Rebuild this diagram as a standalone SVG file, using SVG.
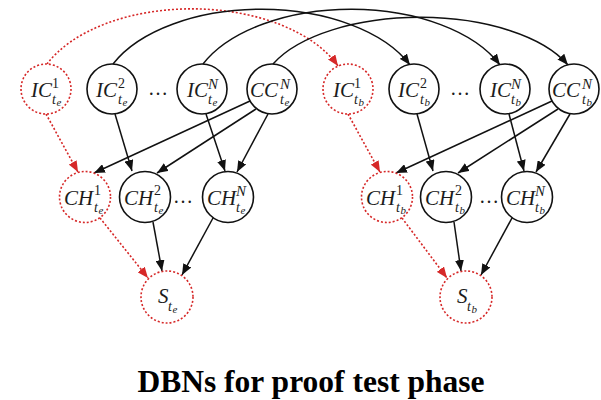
<svg xmlns="http://www.w3.org/2000/svg" width="601" height="400" viewBox="0 0 601 400">
<style>
.n circle{fill:#fff;stroke:#111;stroke-width:1.6}
.r circle{fill:#fff;stroke:#d62828;stroke-width:1.6;stroke-dasharray:2 2}
.e{fill:none;stroke:#111;stroke-width:1.5}
.er{fill:none;stroke:#d62828;stroke-width:1.6;stroke-dasharray:2 2}
text{font-family:"Liberation Serif","Times New Roman",serif;fill:#1c1c1c}
.m{font-size:21px;font-style:italic}
.d{font-size:14px}
.sn{font-size:15px;font-style:italic}
.t{font-size:14px;font-style:italic}
.s{font-size:11px;font-style:italic}
.dots{font-size:20px;text-anchor:middle}
.title{font-size:31.5px;font-weight:bold;text-anchor:middle;fill:#000}
</style>
<defs>
<marker id="ab" markerUnits="userSpaceOnUse" markerWidth="11" markerHeight="9" viewBox="0 0 11 9" refX="11" refY="4.5" orient="auto"><path d="M0,0 L11,4.5 L0,9 z" fill="#111"/></marker>
<marker id="ar" markerUnits="userSpaceOnUse" markerWidth="11" markerHeight="9" viewBox="0 0 11 9" refX="11" refY="4.5" orient="auto"><path d="M0,0 L11,4.5 L0,9 z" fill="#d62828"/></marker>
</defs>
<g id="connectors">
<path class="er" d="M47,64 A158,92 0 0 1 338,66" marker-end="url(#ar)"/>
<path class="e" d="M113,64 A162,92 0 0 1 410,65" marker-end="url(#ab)"/>
<path class="e" d="M203,64 A162,92 0 0 1 500,65" marker-end="url(#ab)"/>
<path class="e" d="M273,64 A160,77 0 0 1 568,65" marker-end="url(#ab)"/>
<path class="e" d="M115,114 L132,171" marker-end="url(#ab)"/>
<path class="e" d="M206,114 L225,171" marker-end="url(#ab)"/>
<path class="e" d="M250,101 L94,173" marker-end="url(#ab)"/>
<path class="e" d="M256,109 L157,173" marker-end="url(#ab)"/>
<path class="e" d="M268,114 L237,172" marker-end="url(#ab)"/>
<path class="er" d="M46,114 L78,172" marker-end="url(#ar)"/>
<path class="er" d="M100,218 L148,278" marker-end="url(#ar)"/>
<path class="e" d="M153,222 L162,271" marker-end="url(#ab)"/>
<path class="e" d="M213,218 L182,275" marker-end="url(#ab)"/>
<path class="e" d="M417,114 L433,171" marker-end="url(#ab)"/>
<path class="e" d="M509,114 L524,171" marker-end="url(#ab)"/>
<path class="e" d="M552,101 L396,173" marker-end="url(#ab)"/>
<path class="e" d="M558,109 L458,173" marker-end="url(#ab)"/>
<path class="e" d="M570,114 L536,172" marker-end="url(#ab)"/>
<path class="er" d="M348,114 L380,172" marker-end="url(#ar)"/>
<path class="er" d="M402,218 L447,278" marker-end="url(#ar)"/>
<path class="e" d="M454,222 L461,271" marker-end="url(#ab)"/>
<path class="e" d="M512,218 L481,275" marker-end="url(#ab)"/>
</g>
<g id="IC1_te" class="r"><circle cx="46" cy="89" r="25"/><text class="m" x="31" y="97">IC</text><text class="d" x="52" y="88">1</text><text class="t" x="52" y="104">t</text><text class="s" x="56.5" y="106">e</text></g>
<g id="IC2_te" class="n"><circle cx="112" cy="89" r="25"/><text class="m" x="96" y="97">IC</text><text class="d" x="118" y="88">2</text><text class="t" x="118" y="104">t</text><text class="s" x="122.5" y="106">e</text></g>
<g id="ICN_te" class="n"><circle cx="202" cy="89" r="25"/><text class="m" x="187" y="97">IC</text><text class="sn" x="208" y="89">N</text><text class="t" x="208" y="104">t</text><text class="s" x="212.5" y="106">e</text></g>
<g id="CCN_te" class="n"><circle cx="272" cy="89" r="25"/><text class="m" x="250" y="97">CC</text><text class="sn" x="280" y="89">N</text><text class="t" x="280" y="104">t</text><text class="s" x="284.5" y="106">e</text></g>
<g id="CH1_te" class="r"><circle cx="85" cy="197" r="25.5"/><text class="m" x="64" y="205">CH</text><text class="d" x="94" y="195">1</text><text class="t" x="94" y="212">t</text><text class="s" x="98.5" y="214">e</text></g>
<g id="CH2_te" class="n"><circle cx="145" cy="197" r="25.5"/><text class="m" x="124" y="205">CH</text><text class="d" x="154" y="195">2</text><text class="t" x="154" y="212">t</text><text class="s" x="158.5" y="214">e</text></g>
<g id="CHN_te" class="n"><circle cx="228" cy="197" r="25.5"/><text class="m" x="207" y="205">CH</text><text class="sn" x="236" y="196">N</text><text class="t" x="236" y="212">t</text><text class="s" x="240.5" y="214">e</text></g>
<g id="S_te" class="r"><circle cx="167" cy="297" r="26"/><text class="m" x="158" y="303">S</text><text class="t" x="168" y="311">t</text><text class="s" x="172.5" y="313">e</text></g>
<g id="IC1_tb" class="r"><circle cx="348" cy="89" r="25"/><text class="m" x="333" y="97">IC</text><text class="d" x="354" y="88">1</text><text class="t" x="354" y="104">t</text><text class="s" x="358.5" y="106">b</text></g>
<g id="IC2_tb" class="n"><circle cx="414" cy="89" r="25"/><text class="m" x="398" y="97">IC</text><text class="d" x="420" y="88">2</text><text class="t" x="420" y="104">t</text><text class="s" x="424.5" y="106">b</text></g>
<g id="ICN_tb" class="n"><circle cx="505" cy="89" r="25"/><text class="m" x="490" y="97">IC</text><text class="sn" x="511" y="89">N</text><text class="t" x="511" y="104">t</text><text class="s" x="515.5" y="106">b</text></g>
<g id="CCN_tb" class="n"><circle cx="574" cy="89" r="25"/><text class="m" x="552" y="97">CC</text><text class="sn" x="582" y="89">N</text><text class="t" x="582" y="104">t</text><text class="s" x="586.5" y="106">b</text></g>
<g id="CH1_tb" class="r"><circle cx="387" cy="197" r="25.5"/><text class="m" x="366" y="205">CH</text><text class="d" x="396" y="195">1</text><text class="t" x="396" y="212">t</text><text class="s" x="400.5" y="214">b</text></g>
<g id="CH2_tb" class="n"><circle cx="446" cy="197" r="25.5"/><text class="m" x="425" y="205">CH</text><text class="d" x="455" y="195">2</text><text class="t" x="455" y="212">t</text><text class="s" x="459.5" y="214">b</text></g>
<g id="CHN_tb" class="n"><circle cx="527" cy="197" r="25.5"/><text class="m" x="506" y="205">CH</text><text class="sn" x="535" y="196">N</text><text class="t" x="535" y="212">t</text><text class="s" x="539.5" y="214">b</text></g>
<g id="S_tb" class="r"><circle cx="466" cy="297" r="26"/><text class="m" x="457" y="303">S</text><text class="t" x="467" y="311">t</text><text class="s" x="471.5" y="313">b</text></g>
<text class="dots" x="158" y="95">…</text>
<text class="dots" x="183" y="203">…</text>
<text class="dots" x="460" y="95">…</text>
<text class="dots" x="489" y="203">…</text>
<text class="title" x="311" y="392">DBNs for proof test phase</text>
</svg>
